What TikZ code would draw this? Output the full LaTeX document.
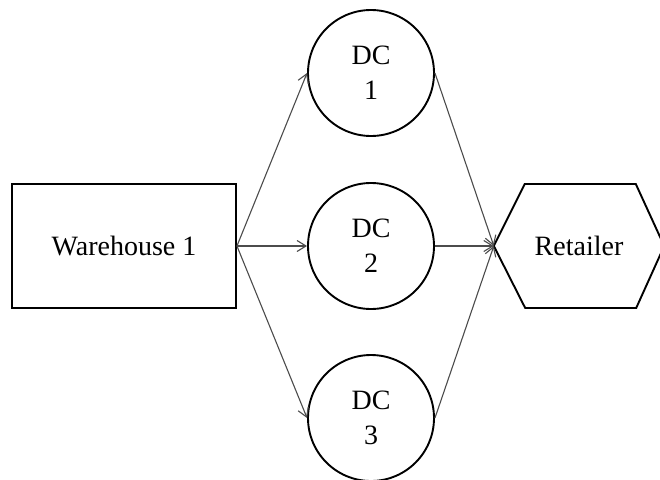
\documentclass[tikz,border=0pt]{standalone}
\usepackage{fontspec}
\setmainfont{Liberation Serif}
\usetikzlibrary{arrows.meta}
\begin{document}
\begin{tikzpicture}[x=1pt,y=-1pt,
  box/.style={draw=black,line width=1.9pt,fill=white,minimum width=224pt,minimum height=124pt,inner sep=0pt,font=\fontsize{28}{35}\selectfont},
  dcnode/.style={draw=black,line width=1.9pt,circle,minimum size=126pt,inner sep=0pt,align=center,font=\fontsize{28}{35}\selectfont},
  retnode/.style={minimum width=170pt,minimum height=124pt,inner sep=0pt,font=\fontsize{28}{35}\selectfont},
  link/.style={draw=black!70,line width=1.1pt,-{Straight Barb[length=9pt,width=11pt]}}]
\useasboundingbox (0,0) rectangle (660,479);
\clip (0,0) rectangle (660,479);
\fill[white] (0,0) rectangle (660,479);
\node[box] (wh) at (124,246) {Warehouse 1};
\node[dcnode] (dc1) at (371,73) {DC\\1};
\node[dcnode] (dc2) at (371,246) {DC\\2};
\node[dcnode] (dc3) at (371,418) {DC\\3};
\node[retnode] (ret) at (579,246) {};
\draw[line width=1.9pt] (ret.west) -- ++(31,-62) -- ++(111,0) -- (ret.east) -- ++(-28,62) -- ++(-111,0) -- cycle;
\node[font=\fontsize{28}{35}\selectfont] (rett) at (ret.center) {Retailer};
\draw[link] (wh.east) -- (dc1.west);
\draw[link] (wh.east) -- (dc2.west);
\draw[link] (wh.east) -- (dc3.west);
\draw[link] (dc1.east) -- (ret.west);
\draw[link] (dc2.east) -- (ret.west);
\draw[link] (dc3.east) -- (ret.west);
\end{tikzpicture}
\end{document}
